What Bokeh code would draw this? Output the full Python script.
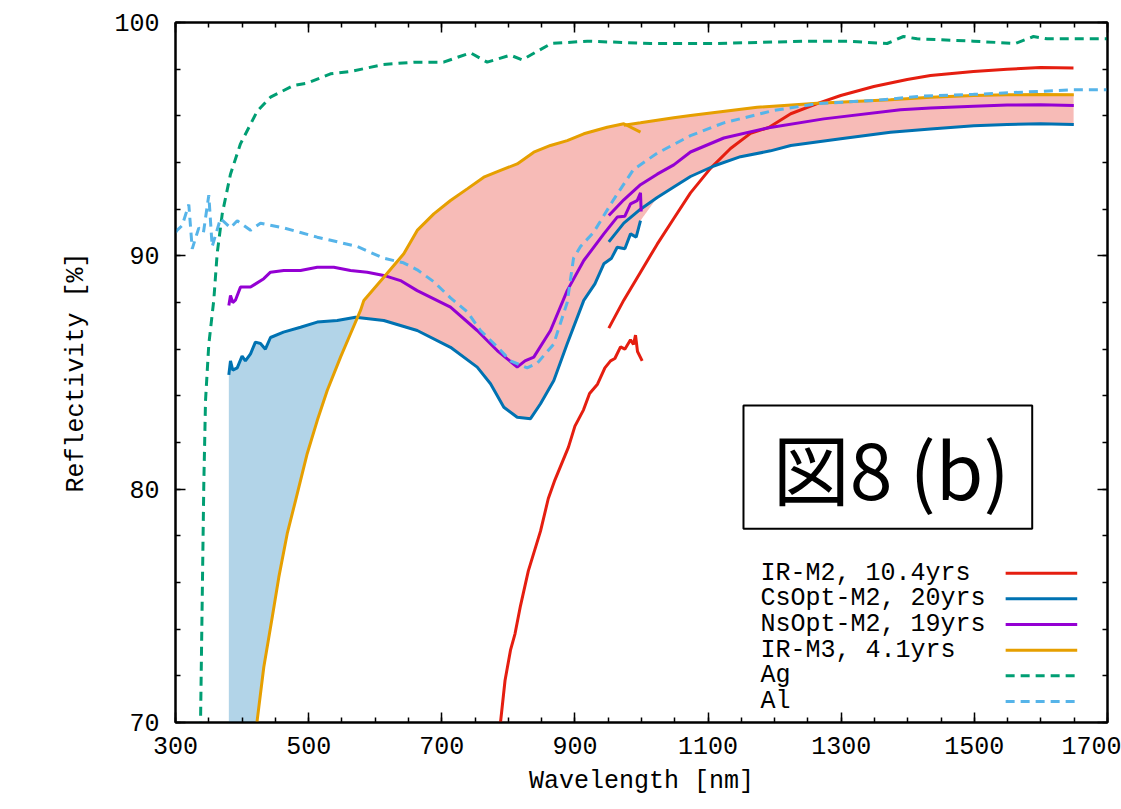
import numpy as np
from bokeh.plotting import figure
from bokeh.models import FixedTicker, LinearAxis, BoxAnnotation, Label, Range1d
from bokeh.core.properties import value
from bokeh.embed import file_html
from bokeh.resources import INLINE

# ---------------- data (wavelength nm, reflectivity %) ----------------
x_tick_values = [300, 500, 700, 900, 1100, 1300, 1500, 1700]
y_tick_values = [70, 80, 90, 100]

ag_nm = [337.0, 337.6, 340.1, 342.5, 345.1, 350.0, 357.5, 362.6, 370.2, 382.6, 397.6, 422.7,
         442.7, 477.3, 497.8, 532.8, 562.9, 612.4, 657.5, 702.6, 743.1, 768.2, 803.2, 820.8,
         864.3, 918.4, 1013.5, 1113.7, 1248.9, 1309.0, 1369.0, 1393.6, 1414.0, 1498.7, 1561.8,
         1588.8, 1609.4, 1700.0]
ag_r = [69.0, 70.0, 75.2, 80.2, 83.8, 86.2, 88.1, 90.1, 91.8, 93.5, 94.8, 96.2,
        96.8, 97.3, 97.4, 97.8, 97.9, 98.2, 98.3, 98.3, 98.7, 98.3, 98.6, 98.4,
        99.1, 99.2, 99.1, 99.1, 99.2, 99.2, 99.1, 99.4, 99.3, 99.2, 99.1,
        99.4, 99.3, 99.3]

al_nm = [300.0, 302.6, 310.0, 320.0, 325.1, 335.0, 342.0, 350.0, 355.1, 367.6, 382.6, 392.7,
         412.7, 427.7, 462.2, 487.8, 512.9, 542.9, 572.9, 612.4, 642.5, 663.1, 687.6, 713.1,
         738.2, 758.2, 783.2, 803.2, 828.3, 843.3, 867.8, 888.4, 897.9, 908.4, 927.9, 957.9,
         988.0, 1023.6, 1073.6, 1123.6, 1198.7, 1263.9, 1349.0, 1424.0, 1498.7, 1599.4,
         1648.9, 1700.0]
al_r = [91.0, 91.1, 91.3, 92.2, 90.3, 91.2, 91.0, 92.6, 90.4, 91.6, 91.2, 91.5,
        91.1, 91.4, 91.2, 91.0, 90.8, 90.6, 90.4, 89.9, 89.7, 89.4, 88.9, 88.2,
        87.6, 86.8, 86.1, 85.5, 85.2, 85.4, 86.2, 88.0, 89.9, 90.4, 91.0, 92.4,
        93.7, 94.4, 95.15, 95.7, 96.23, 96.52, 96.66, 96.85, 96.92, 97.05,
        97.12, 97.12]

# IR-M2, 10.4yrs : measured (noisy) + extrapolated curve
irm2_meas_nm = [786.5, 788.2, 795.0, 803.2, 810.0, 818.2, 830.0, 848.3, 860.0, 870.0, 890.3,
                900.0, 912.9, 922.0, 933.9, 945.0, 953.5, 960.0, 968.5, 975.0, 983.5, 988.0,
                991.0, 994.0, 1001.0]
irm2_meas_r = [69.5, 70.0, 71.8, 73.1, 73.8, 75.0, 76.5, 78.2, 79.6, 80.4, 81.8,
               82.7, 83.4, 84.1, 84.5, 85.2, 85.5, 85.6, 86.1, 86.0, 86.4, 86.2,
               86.6, 85.9, 85.5]
irm2_fit_nm = [950.9, 973.4, 998.5, 1023.6, 1048.5, 1073.6, 1103.6, 1133.7, 1163.7, 1191.2,
               1224.2, 1263.9, 1299.3, 1349.0, 1399.1, 1434.1, 1498.7, 1549.3, 1599.4, 1648.9]
irm2_fit_r = [86.9, 88.1, 89.3, 90.5, 91.6, 92.7, 93.75, 94.6, 95.25, 95.5,
              96.09, 96.52, 96.87, 97.26, 97.56, 97.73, 97.9, 98.0, 98.07, 98.05]

# CsOpt-M2, 20yrs
cs_meas_nm = [380.1, 382.6, 386.0, 392.7, 400.0, 405.0, 412.7, 420.0, 427.7, 435.0, 442.7,
              462.2, 487.8, 512.9, 542.9, 570.4, 612.9, 663.1, 713.1, 753.2, 773.2, 793.2,
              813.3, 833.3, 848.3, 868.3, 888.4, 913.3, 930.0, 943.4, 955.0, 963.5, 975.0,
              983.5, 992.0, 998.5]
cs_meas_r = [84.9, 85.5, 85.1, 85.2, 85.7, 85.5, 85.8, 86.3, 86.24, 86.0, 86.5,
             86.73, 86.94, 87.16, 87.23, 87.37, 87.23, 86.8, 86.08, 85.23, 84.52, 83.51,
             83.08, 83.02, 83.66, 84.66, 86.23, 88.09, 88.8, 89.66, 89.9, 90.37, 90.3,
             90.94, 90.8, 91.51]
cs_fit_nm = [950.9, 973.4, 998.5, 1023.6, 1048.5, 1073.6, 1108.6, 1148.7, 1193.8, 1224.2,
             1299.3, 1374.0, 1434.1, 1499.3, 1549.3, 1599.4, 1649.4]
cs_fit_r = [90.6, 91.4, 92.0, 92.5, 92.95, 93.4, 93.85, 94.25, 94.5, 94.73,
            95.02, 95.3, 95.44, 95.57, 95.63, 95.66, 95.63]

# NsOpt-M2, 19yrs
ns_meas_nm = [380.1, 382.6, 386.0, 390.0, 397.6, 412.7, 432.6, 442.7, 462.7, 487.8, 512.9,
              537.8, 562.9, 588.0, 612.9, 637.9, 663.1, 713.1, 753.2, 783.2, 813.3, 825.0,
              838.2, 863.3, 888.4, 913.3, 943.4, 963.5, 975.0, 983.5, 993.5, 998.5, 999.5]
ns_meas_r = [87.87, 88.3, 88.0, 88.1, 88.66, 88.66, 89.02, 89.3, 89.37, 89.37, 89.51,
             89.51, 89.37, 89.3, 89.16, 88.94, 88.51, 87.8, 86.8, 85.94, 85.23, 85.5,
             85.66, 86.8, 88.51, 89.8, 90.94, 91.66, 91.7, 92.23, 92.37, 92.7, 91.9]
ns_fit_nm = [950.9, 973.4, 998.5, 1023.6, 1048.5, 1073.6, 1123.6, 1191.2, 1273.9, 1389.1,
             1434.1, 1499.3, 1549.3, 1599.4, 1649.4]
ns_fit_r = [91.73, 92.4, 93.05, 93.5, 93.9, 94.45, 95.05, 95.49, 95.87, 96.26,
            96.34, 96.41, 96.46, 96.47, 96.44]

# IR-M3, 4.1yrs
ir3_meas_nm = [421.5, 422.7, 432.6, 445.3, 455.2, 467.8, 480.3, 497.8, 512.9, 527.9, 547.9,
               562.9, 577.9, 582.9, 612.9, 642.9, 663.1, 688.0, 713.1, 738.2, 763.1, 788.2,
               813.3, 838.2, 863.3, 888.4, 913.3, 948.5, 973.4, 998.5]
ir3_meas_r = [69.5, 70.09, 72.37, 74.51, 76.23, 78.09, 79.51, 81.52, 82.94, 84.23, 85.66,
              86.66, 87.66, 88.09, 89.08, 90.09, 91.09, 91.8, 92.37, 92.87, 93.37, 93.66,
              93.94, 94.44, 94.73, 94.94, 95.23, 95.51, 95.66, 95.3]
ir3_fit_nm = [973.4, 998.5, 1048.5, 1073.6, 1173.8, 1263.9, 1374.0, 1434.1, 1499.3, 1549.3,
              1599.4, 1649.4]
ir3_fit_r = [95.6, 95.7, 95.92, 96.01, 96.37, 96.54, 96.69, 96.8, 96.87, 96.9,
             96.91, 96.9]

legend_labels = ["IR-M2, 10.4yrs", "CsOpt-M2, 20yrs", "NsOpt-M2, 19yrs",
                 "IR-M3, 4.1yrs", "Ag", "Al"]
figure_label = "図8 (b)"

# ---------------- styles ----------------
RED, BLUE, PURPLE, ORANGE, GREEN, LBLUE = "#E51E10", "#0072B2", "#9400D3", "#E69F00", "#009E73", "#56B4E9"
MONO = "Liberation Mono"

p = figure(width=1121, height=809, x_range=Range1d(300, 1700), y_range=Range1d(70, 100),
           output_backend="svg", toolbar_location=None,
           min_border_left=175, min_border_right=14, min_border_top=22, min_border_bottom=87)
p.background_fill_color = "white"
p.border_fill_color = "white"
p.xgrid.visible = False
p.ygrid.visible = False
p.outline_line_color = "black"
p.outline_line_width = 2

xt = FixedTicker(ticks=x_tick_values, minor_ticks=list(range(300, 1701, 50)))
yt = FixedTicker(ticks=y_tick_values, minor_ticks=list(range(70, 101, 2)))

def style_axis(ax, show, ticks=None):
    ax.axis_line_color = "black"
    ax.axis_line_width = 2
    ax.major_tick_in = 10
    ax.major_tick_out = 0
    ax.minor_tick_in = 5
    ax.minor_tick_out = 0
    ax.major_tick_line_width = 1.5
    ax.minor_tick_line_width = 1.5
    if show:
        ax.major_label_text_font = MONO
        ax.major_label_text_font_size = "25px"
        ax.major_label_text_color = "black"
        ax.axis_label_text_font = MONO
        ax.axis_label_text_font_size = "25px"
        ax.axis_label_text_font_style = "normal"
        ax.axis_label_text_color = "black"
    else:
        ax.major_label_overrides = {t: "" for t in ticks}
        ax.major_label_text_font_size = "1px"
        ax.major_label_standoff = 0
        ax.axis_label = None

xa = p.xaxis[0]
xa.ticker = xt
xa.axis_label = "Wavelength [nm]"
style_axis(xa, True)
xa.major_label_standoff = 14
xa.axis_label_standoff = 10

ya = p.yaxis[0]
ya.ticker = yt
ya.axis_label = "Reflectivity [%]"
style_axis(ya, True)
ya.major_label_standoff = 16
ya.axis_label_standoff = 20

top = LinearAxis(ticker=xt)
style_axis(top, False, x_tick_values)
p.add_layout(top, "above")
right = LinearAxis(ticker=yt)
style_axis(right, False, y_tick_values)
p.add_layout(right, "right")

# ---------------- fills ----------------
cs_all_x = np.array(cs_meas_nm + [v for v in cs_fit_nm if v > cs_meas_nm[-1]])
cs_all_y = np.array(cs_meas_r + [r for v, r in zip(cs_fit_nm, cs_fit_r) if v > cs_meas_nm[-1]])
ir3_cut = 973.4
ir3_all_x = np.array([v for v in ir3_meas_nm if v <= ir3_cut] + [v for v in ir3_fit_nm if v > ir3_cut])
ir3_all_y = np.array([r for v, r in zip(ir3_meas_nm, ir3_meas_r) if v <= ir3_cut] +
                     [r for v, r in zip(ir3_fit_nm, ir3_fit_r) if v > ir3_cut])

grid = np.arange(cs_meas_nm[0], cs_fit_nm[-1], 1.0)
cs_g = np.interp(grid, cs_all_x, cs_all_y)
ir3_g = np.interp(grid, ir3_all_x, ir3_all_y, left=70.0)

p.varea(x=grid, y1=ir3_g, y2=np.maximum(cs_g, ir3_g), fill_color=BLUE, fill_alpha=0.3)
p.varea(x=grid, y1=cs_g, y2=np.maximum(ir3_g, cs_g), fill_color=RED, fill_alpha=0.3)

# ---------------- lines ----------------
LW = 3
p.line(irm2_meas_nm, irm2_meas_r, line_color=RED, line_width=LW)
p.line(irm2_fit_nm, irm2_fit_r, line_color=RED, line_width=LW)
p.line(cs_meas_nm, cs_meas_r, line_color=BLUE, line_width=LW)
p.line(cs_fit_nm, cs_fit_r, line_color=BLUE, line_width=LW)
p.line(ns_meas_nm, ns_meas_r, line_color=PURPLE, line_width=LW)
p.line(ns_fit_nm, ns_fit_r, line_color=PURPLE, line_width=LW)
p.line(ir3_meas_nm, ir3_meas_r, line_color=ORANGE, line_width=LW)
p.line(ir3_fit_nm, ir3_fit_r, line_color=ORANGE, line_width=LW)
p.line(ag_nm, ag_r, line_color=GREEN, line_width=3, line_dash="9 6")
p.line(al_nm, al_r, line_color=LBLUE, line_width=3, line_dash="9 6")

# ---------------- legend (gnuplot style: text left, sample right) ----------------
colors = [RED, BLUE, PURPLE, ORANGE, GREEN, LBLUE]
dashes = ["solid", "solid", "solid", "solid", "9 6", "9 6"]
leg_y = [76.40 - i * 1.10 for i in range(len(legend_labels))]
p.text(x=[1178.8] * len(legend_labels), y=leg_y, text=legend_labels,
       text_font=value(MONO), text_font_size="25px", text_color="black",
       text_align="left", text_baseline="middle")
for yy, c, d in zip(leg_y, colors, dashes):
    p.segment(x0=[1547.0], y0=[yy], x1=[1654.5], y1=[yy], line_color=c,
              line_width=3, line_dash=d)

# ---------------- figure label box ----------------
p.add_layout(BoxAnnotation(left=1153.2, right=1586.9, bottom=78.3, top=83.59,
                           fill_color="white", fill_alpha=1.0,
                           line_color="black", line_width=2, line_alpha=1.0))
p.add_layout(Label(x=1375.0, y=80.97, text=figure_label, text_align="center",
                   text_baseline="middle", text_font="Noto Sans CJK JP",
                   text_font_size="77px", text_color="black"))

open("out.html", "w").write(file_html(p, INLINE))
